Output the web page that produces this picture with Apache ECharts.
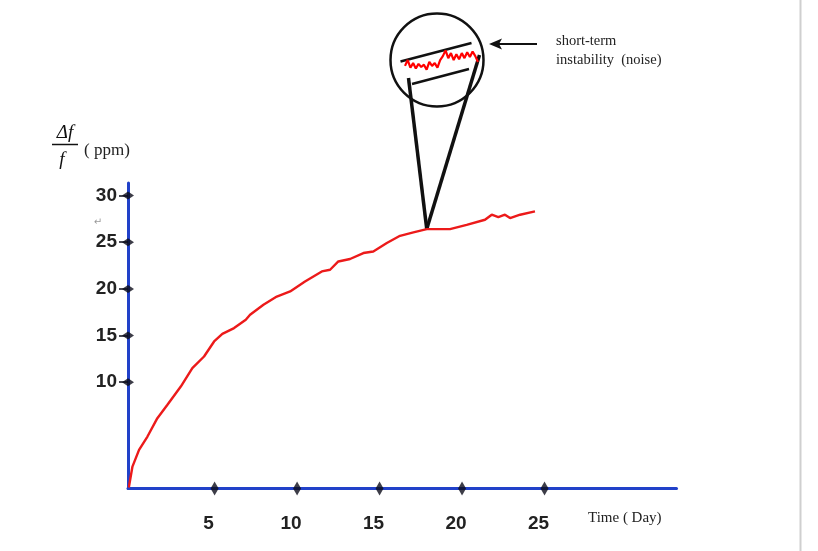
<!DOCTYPE html>
<html>
<head>
<meta charset="utf-8">
<script src="https://cdn.jsdelivr.net/npm/echarts@6/dist/echarts.min.js"></script>
<style>
html,body{margin:0;padding:0;background:#fff;}
#c{width:818px;height:551px;}
</style>
</head>
<body>
<div id="c"></div>
<script>
// ---- data ----
const xTicks = [5, 10, 15, 20, 25];
const yTicks = [10, 15, 20, 25, 30];
const days = [-0.2, 0.02, 0.42, 0.93, 1.53, 2.14, 2.95, 3.65, 4.36, 4.97, 5.47, 6.18, 6.89, 7.15, 7.96, 8.77, 9.58, 10.48, 11.5, 12.0, 12.5, 13.21, 14.02, 14.62, 15.44, 16.24, 17.05, 17.86, 19.27, 20.28, 21.39, 21.8, 22.2, 22.6, 22.91, 23.52, 24.42];
const ppm  = [-1.3, 0.95, 2.74, 4.17, 6.14, 7.57, 9.53, 11.51, 12.75, 14.36, 15.18, 15.8, 16.69, 17.22, 18.29, 19.18, 19.72, 20.79, 21.87, 22.05, 22.94, 23.2, 23.84, 24.01, 24.91, 25.69, 26.05, 26.41, 26.41, 26.87, 27.41, 27.95, 27.7, 27.95, 27.59, 27.95, 28.3];
const apexIndex = 27; // point the zoom cone points at
const noise = [8.3, 13.3, 6.7, 10.7, 6, 10, 7.3, 9.3, 5, 11.7, 8.3, 10.7, 6.7, 13.3, 16.7, 21.7, 15, 19.3, 13.3, 18.3, 14, 19.3, 15, 20, 16, 20.7, 16.7, 11.7];
const noiseIdx = noise.map((_, i) => String(i));
const xTitle = 'Time ( Day)';
const yTitleUnit = '( ppm)';
const noteLines = ['short-term', 'instability  (noise)'];

const X_MIN = -0.25, X_MAX = 33, Y_MIN = -1.4, Y_MAX = 31.35;
const BLUE = '#2141c9';
const DARK = '#0c0c1a';

const chart = echarts.init(document.getElementById('c'), null, {renderer: 'canvas'});

chart.setOption({
  backgroundColor: '#ffffff',
  animation: false,
  grid: [
    {left: 128, top: 183, width: 548.5, height: 305.5},
    {left: 405, top: 50, width: 73, height: 22}
  ],
  xAxis: [
    {
      type: 'value', gridIndex: 0, min: X_MIN, max: X_MAX,
      splitLine: {show: false},
      axisLine: {show: true, onZero: false, lineStyle: {color: BLUE, width: 3}},
      axisTick: {show: false},
      axisLabel: {
        customValues: xTicks, margin: 26, padding: [0, 12, 0, 0],
        fontSize: 19, fontWeight: 'bold', fontFamily: 'Liberation Sans, Arial, sans-serif', color: '#222'
      }
    },
    {type: 'category', gridIndex: 1, data: noiseIdx, boundaryGap: false, show: false}
  ],
  yAxis: [
    {
      type: 'value', gridIndex: 0, min: Y_MIN, max: Y_MAX,
      splitLine: {show: false},
      axisLine: {show: true, onZero: false, lineStyle: {color: BLUE, width: 3}},
      axisTick: {show: true, customValues: yTicks, length: 9, lineStyle: {color: DARK, width: 1.5}},
      axisLabel: {
        customValues: yTicks, margin: 11,
        fontSize: 19, fontWeight: 'bold', fontFamily: 'Liberation Sans, Arial, sans-serif', color: '#222'
      }
    },
    {type: 'value', gridIndex: 1, min: 3, max: 22, show: false}
  ],
  series: [
    {
      type: 'line', xAxisIndex: 0, yAxisIndex: 0, z: 5,
      data: days.map((d, i) => [d, ppm[i]]),
      showSymbol: false, symbol: 'none', clip: false,
      lineStyle: {color: '#ec1a1a', width: 2.4}
    },
    {
      type: 'scatter', xAxisIndex: 0, yAxisIndex: 0, z: 6, clip: false, silent: true,
      data: yTicks.map(v => [X_MIN, v]),
      symbol: 'diamond', symbolSize: [12, 8],
      itemStyle: {color: DARK}
    },
    {
      type: 'scatter', xAxisIndex: 0, yAxisIndex: 0, z: 6, clip: false, silent: true,
      data: xTicks.map(v => [v, Y_MIN]),
      symbol: 'diamond', symbolSize: [8, 14],
      itemStyle: {color: DARK}
    },
    {
      type: 'line', xAxisIndex: 1, yAxisIndex: 1, z: 8,
      data: noise, showSymbol: false, symbol: 'none', clip: false,
      lineStyle: {color: '#ff0000', width: 2.2}
    }
  ]
});

const apex = chart.convertToPixel({gridIndex: 0}, [days[apexIndex], ppm[apexIndex]]);

const serif = 'Liberation Serif, Times New Roman, serif';
chart.setOption({
  graphic: [
    // right border line
    {type: 'line', shape: {x1: 800.5, y1: 0, x2: 800.5, y2: 551}, style: {stroke: '#cfcfcf', lineWidth: 2}, z: 1},
    // magnifier circle
    {type: 'circle', shape: {cx: 437, cy: 60, r: 46.5}, style: {fill: 'none', stroke: '#111', lineWidth: 2.5}, z: 3},
    // band lines inside circle
    {type: 'line', shape: {x1: 400.5, y1: 61.5, x2: 471.5, y2: 43}, style: {stroke: '#111', lineWidth: 2.5}, z: 3},
    {type: 'line', shape: {x1: 412, y1: 84, x2: 469, y2: 69}, style: {stroke: '#111', lineWidth: 2.5}, z: 3},
    // cone lines
    {type: 'line', shape: {x1: apex[0], y1: apex[1], x2: 408.5, y2: 78}, style: {stroke: '#111', lineWidth: 3.5}, z: 4},
    {type: 'line', shape: {x1: apex[0], y1: apex[1], x2: 479.5, y2: 55}, style: {stroke: '#111', lineWidth: 3.5}, z: 4},
    // arrow
    {type: 'line', shape: {x1: 537, y1: 44, x2: 497, y2: 44}, style: {stroke: '#111', lineWidth: 2.2}, z: 4},
    {type: 'polygon', shape: {points: [[489, 44], [502, 38.5], [499, 44], [502, 49.5]]}, style: {fill: '#111'}, z: 4},
    // annotation text
    {type: 'text', x: 556, y: 41, style: {text: noteLines[0], font: '14.5px ' + serif, fill: '#222', align: 'left', verticalAlign: 'middle', textAlign: 'left', textVerticalAlign: 'middle'}, z: 4},
    {type: 'text', x: 556, y: 60, style: {text: noteLines[1], font: '14.5px ' + serif, fill: '#222', align: 'left', verticalAlign: 'middle', textAlign: 'left', textVerticalAlign: 'middle'}, z: 4},
    // x title
    {type: 'text', x: 588, y: 518, style: {text: xTitle, font: '15px ' + serif, fill: '#222', align: 'left', verticalAlign: 'middle', textAlign: 'left', textVerticalAlign: 'middle'}, z: 4},
    // y title: Δf / f (ppm)
    {type: 'text', x: 65, y: 133, style: {text: 'Δf', font: 'italic 19px ' + serif, fill: '#111', align: 'center', verticalAlign: 'middle', textAlign: 'center', textVerticalAlign: 'middle'}, z: 4},
    {type: 'line', shape: {x1: 52, y1: 144.5, x2: 78, y2: 144.5}, style: {stroke: '#111', lineWidth: 1.5}, z: 4},
    {type: 'text', x: 62, y: 160, style: {text: 'f', font: 'italic 19px ' + serif, fill: '#111', align: 'center', verticalAlign: 'middle', textAlign: 'center', textVerticalAlign: 'middle'}, z: 4},
    {type: 'text', x: 84, y: 151, style: {text: yTitleUnit, font: '17px ' + serif, fill: '#222', align: 'left', verticalAlign: 'middle', textAlign: 'left', textVerticalAlign: 'middle'}, z: 4},
    // stray return mark
    {type: 'text', x: 98, y: 222, style: {text: '↵', font: '10px DejaVu Sans', fill: '#9a9a9a', align: 'center', verticalAlign: 'middle', textAlign: 'center', textVerticalAlign: 'middle'}, z: 4}
  ]
});
</script>
</body>
</html>
